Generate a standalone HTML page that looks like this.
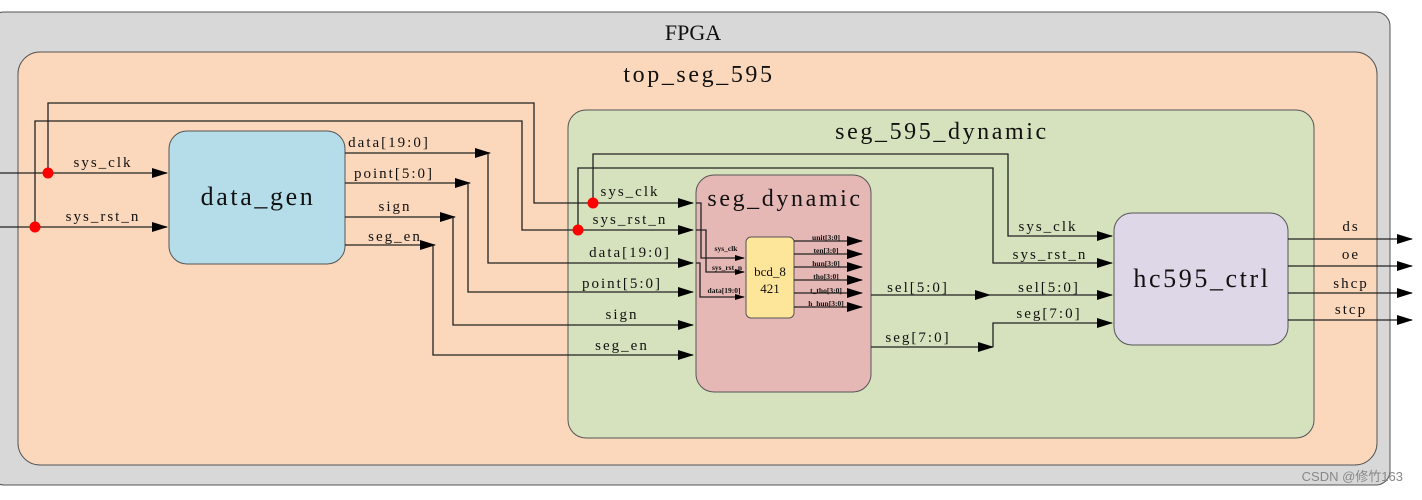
<!DOCTYPE html>
<html><head><meta charset="utf-8"><style>
html,body{margin:0;padding:0;background:#fff;}
svg text{font-family:"Liberation Serif","Noto Serif CJK SC",serif;fill:#111;}
.t{letter-spacing:2.6px;}
.l text{letter-spacing:2px;}
</style></head><body>
<svg width="1422" height="495" viewBox="0 0 1422 495" xmlns="http://www.w3.org/2000/svg">
<defs>
<marker id="a" markerWidth="16" markerHeight="10" refX="15" refY="5" orient="auto" markerUnits="userSpaceOnUse"><path d="M0,0 L16,5 L0,10 z" fill="#000"/></marker>
<marker id="s" markerWidth="10" markerHeight="6" refX="9" refY="3" orient="auto" markerUnits="userSpaceOnUse"><path d="M0,0 L10,3 L0,6 z" fill="#000"/></marker>
</defs>
<rect x="-10" y="12" width="1400" height="473" rx="14" fill="#d8d8d8" stroke="#555" stroke-width="1"/>
<rect x="18" y="52" width="1359" height="413" rx="22" fill="#fbd7bb" stroke="#555" stroke-width="1"/>
<rect x="568" y="110" width="746" height="328" rx="18" fill="#d6e2bd" stroke="#555" stroke-width="1"/>
<rect x="169" y="131" width="176" height="133" rx="18" fill="#b5dde9" stroke="#555" stroke-width="1"/>
<rect x="696" y="175" width="175" height="217" rx="18" fill="#e6b8b5" stroke="#555" stroke-width="1"/>
<rect x="746" y="237" width="48" height="81" rx="5" fill="#fde59a" stroke="#555" stroke-width="1"/>
<rect x="1114" y="213" width="174" height="132" rx="18" fill="#ddd7e8" stroke="#555" stroke-width="1"/>

<g fill="none" stroke="#222" stroke-width="1.3">
<path d="M0,173 H167" marker-end="url(#a)"/>
<path d="M0,227 H167" marker-end="url(#a)"/>
<path d="M48,173 V103 H534 V203 H693" marker-end="url(#a)"/>
<path d="M35,227 V121 H522 V230 H693" marker-end="url(#a)"/>
<path d="M593,203 V154 H1008 V236 H1112" marker-end="url(#a)"/>
<path d="M578,230 V168 H993 V263 H1112" marker-end="url(#a)"/>
<path d="M345,153 H490" marker-end="url(#a)"/><path d="M488,153 V263 H693" marker-end="url(#a)"/>
<path d="M345,183 H470" marker-end="url(#a)"/><path d="M468,183 V292 H693" marker-end="url(#a)"/>
<path d="M345,217 H455" marker-end="url(#a)"/><path d="M453,217 V325 H693" marker-end="url(#a)"/>
<path d="M345,245 H435" marker-end="url(#a)"/><path d="M433,245 V355 H693" marker-end="url(#a)"/>
<path d="M696,203 H701 V258 H744" marker-end="url(#s)"/>
<path d="M696,230 H706 V272 H744" marker-end="url(#s)"/>
<path d="M696,263 H700 V297 H744" marker-end="url(#s)"/>
<path d="M794,241 H862" marker-end="url(#a)"/>
<path d="M794,254 H862" marker-end="url(#a)"/>
<path d="M794,267 H862" marker-end="url(#a)"/>
<path d="M794,280 H862" marker-end="url(#a)"/>
<path d="M794,293 H862" marker-end="url(#a)"/>
<path d="M794,307 H862" marker-end="url(#a)"/>
<path d="M871,295 H990" marker-end="url(#a)"/><path d="M988,295 H1112" marker-end="url(#a)"/>
<path d="M871,347 H993" marker-end="url(#a)"/><path d="M993,347 V323 H1112" marker-end="url(#a)"/>
<path d="M1288,239 H1412" marker-end="url(#a)"/>
<path d="M1288,266 H1412" marker-end="url(#a)"/>
<path d="M1288,293 H1412" marker-end="url(#a)"/>
<path d="M1288,320 H1412" marker-end="url(#a)"/>
</g>
<g fill="#f00"><circle cx="48" cy="173" r="5.5"/><circle cx="35" cy="227" r="5.5"/><circle cx="593" cy="203" r="5.5"/><circle cx="578" cy="230" r="5.5"/></g>

<g text-anchor="middle">
<text x="693" y="40" font-size="22">FPGA</text>
<text class="t" x="699" y="82" font-size="24">top_seg_595</text>
<text class="t" x="942" y="139" font-size="24">seg_595_dynamic</text>
<text class="t" x="258" y="205" font-size="26">data_gen</text>
<text class="t" x="785" y="206" font-size="24">seg_dynamic</text>
<text class="t" x="1202" y="287" font-size="26">hc595_ctrl</text>
<text x="770" y="276" font-size="13">bcd_8</text>
<text x="770" y="293" font-size="13">421</text>
</g>
<g class="l" font-size="15" text-anchor="middle">
<text x="103" y="167">sys_clk</text>
<text x="103" y="221">sys_rst_n</text>
<text x="389" y="147">data[19:0]</text>
<text x="394" y="178">point[5:0]</text>
<text x="395" y="211">sign</text>
<text x="395" y="241">seg_en</text>
<text x="630" y="196">sys_clk</text>
<text x="630" y="224">sys_rst_n</text>
<text x="630" y="257">data[19:0]</text>
<text x="622" y="288">point[5:0]</text>
<text x="622" y="319">sign</text>
<text x="622" y="350">seg_en</text>
<text x="1048" y="231">sys_clk</text>
<text x="1050" y="259">sys_rst_n</text>
<text x="1049" y="292">sel[5:0]</text>
<text x="1049" y="318">seg[7:0]</text>
<text x="918" y="292">sel[5:0]</text>
<text x="918" y="342">seg[7:0]</text>
<text x="1351" y="231">ds</text>
<text x="1351" y="259">oe</text>
<text x="1351" y="288">shcp</text>
<text x="1351" y="314">stcp</text>
</g>
<g font-size="7.5" text-anchor="middle" font-weight="bold">
<text x="726" y="251">sys_clk</text>
<text x="727" y="270">sys_rst_n</text>
<text x="724" y="293">data[19:0]</text>
<text x="826" y="240">unit[3:0]</text>
<text x="826" y="253">ten[3:0]</text>
<text x="826" y="266">hun[3:0]</text>
<text x="826" y="279">tho[3:0]</text>
<text x="826" y="293">t_tho[3:0]</text>
<text x="826" y="306">h_hun[3:0]</text>
</g>
<text x="1403" y="481" font-size="13" text-anchor="end" style="fill:#888;font-family:'Liberation Sans','Noto Sans CJK SC',sans-serif">CSDN @修竹163</text>
</svg>
</body></html>
